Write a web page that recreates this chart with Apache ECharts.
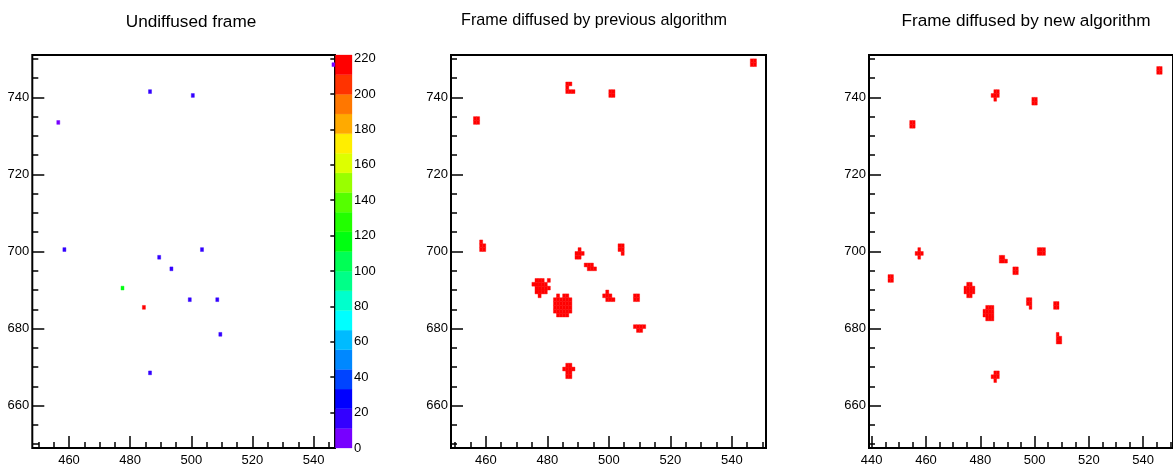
<!DOCTYPE html>
<html>
<head>
<meta charset="utf-8">
<script src="https://cdn.jsdelivr.net/npm/echarts@6/dist/echarts.min.js"></script>
<style>
  html, body { margin: 0; padding: 0; background: #fff; }
  #chart { width: 1173px; height: 468px; }
</style>
</head>
<body>
<div id="chart"></div>
<script>
const FONT = '"Liberation Sans", Arial, Helvetica, sans-serif';

const panelTitles = ['Undiffused frame', 'Frame diffused by previous algorithm', 'Frame diffused by new algorithm'];

// Raw hits: pixel column, pixel row, charge
const hitX = [486, 500, 456, 546, 458, 503, 489, 493, 477, 484, 499, 508, 509, 486];
const hitY = [741, 740, 733, 748, 700, 700, 698, 695, 690, 685, 687, 687, 678, 668];
const hitZ = [16, 16, 7, 8, 16, 16, 16, 16, 115, 220, 16, 16, 16, 16];

// Pixels switched on after diffusion with the previous algorithm
const prevCells = [
  [456,733],[457,733],[456,734],[457,734],
  [486,743],[487,743],[486,742],[486,741],[487,741],[488,741],
  [500,740],[501,740],[500,741],[501,741],
  [546,748],[547,748],[546,749],[547,749],
  [458,702],[458,701],[459,701],[458,700],[459,700],
  [490,700],[489,699],[490,699],[491,699],[489,698],[490,698],
  [492,696],[493,696],[494,696],[493,695],[494,695],[495,695],
  [503,701],[504,701],[503,700],[504,700],[504,699],
  [476,692],[477,692],[478,692],[480,692],
  [475,691],[476,691],[477,691],[478,691],[479,691],
  [476,690],[477,690],[478,690],[479,690],[480,690],
  [476,689],[477,689],[478,689],[479,689],
  [477,688],
  [483,688],[485,688],[486,688],
  [482,687],[483,687],[484,687],[485,687],[486,687],[487,687],
  [482,686],[483,686],[484,686],[485,686],[486,686],[487,686],
  [482,685],[483,685],[484,685],[485,685],[486,685],[487,685],
  [482,684],[483,684],[484,684],[485,684],[486,684],[487,684],
  [483,683],[484,683],[485,683],[486,683],
  [499,689],[498,688],[499,688],[500,688],[499,687],[500,687],[501,687],
  [508,687],[509,687],[508,688],[509,688],
  [508,680],[509,680],[510,680],[511,680],[509,679],[510,679],
  [486,670],[487,670],[485,669],[486,669],[487,669],[488,669],
  [486,668],[487,668],[486,667],[487,667]
];

// Pixels switched on after diffusion with the new algorithm
const newCells = [
  [454,732],[455,732],[454,733],[455,733],
  [485,741],[486,741],[484,740],[485,740],[486,740],[485,739],
  [499,738],[500,738],[499,739],[500,739],
  [545,746],[546,746],[545,747],[546,747],
  [457,700],[456,699],[457,699],[458,699],[457,698],
  [446,692],[447,692],[446,693],[447,693],
  [475,691],[476,691],
  [474,690],[475,690],[476,690],[477,690],
  [474,689],[475,689],[476,689],[477,689],
  [475,688],[476,688],
  [482,685],[483,685],[484,685],
  [481,684],[482,684],[483,684],[484,684],
  [481,683],[482,683],[483,683],[484,683],
  [482,682],[483,682],[484,682],
  [487,698],[488,698],[487,697],[488,697],[489,697],
  [492,694],[493,694],[492,695],[493,695],
  [501,699],[502,699],[503,699],[501,700],[502,700],[503,700],
  [497,687],[498,687],[497,686],[498,686],[498,685],
  [507,685],[508,685],[507,686],[508,686],
  [508,678],[508,677],[509,677],[508,676],[509,676],
  [485,668],[486,668],[484,667],[485,667],[486,667],[485,666]
];

// Tick positions
const xMajorA = [460, 480, 500, 520, 540];
const xMinorA = [450, 455, 460, 465, 470, 475, 480, 485, 490, 495, 500, 505, 510, 515, 520, 525, 530, 535, 540, 545];
const xMajorB = [460, 480, 500, 520, 540];
const xMinorB = [450, 455, 460, 465, 470, 475, 480, 485, 490, 495, 500, 505, 510, 515, 520, 525, 530, 535, 540, 545, 550];
const xMajorC = [440, 460, 480, 500, 520, 540];
const xMinorC = [440, 445, 450, 455, 460, 465, 470, 475, 480, 485, 490, 495, 500, 505, 510, 515, 520, 525, 530, 535, 540, 545, 550];
const yMajor = [660, 680, 700, 720, 740];
const yMinor = [650, 655, 660, 665, 670, 675, 680, 685, 690, 695, 700, 705, 710, 715, 720, 725, 730, 735, 740, 745, 750];
const zTicks = [0, 20, 40, 60, 80, 100, 120, 140, 160, 180, 200, 220];

const zMax = 222;
const nLevels = 20;
const palette = [
  '#7700ff', '#3300ff', '#0000ff', '#0044ff', '#0088ff',
  '#00bbff', '#00ffff', '#00ffcc', '#00ff88', '#00ff55',
  '#00ff11', '#22ff00', '#55ff00', '#99ff00', '#ddff00',
  '#ffee00', '#ffaa00', '#ff7700', '#ff3300', '#ff0000'
];
const hitColor = '#ff0000';

function colorFor(v) {
  const i = Math.min(nLevels - 1, Math.max(0, Math.floor(v / (zMax / nLevels))));
  return palette[i];
}

// Panel frames (pixels) and axis ranges
const panels = [
  { left: 32.3, width: 302.7, xMin: 448, xMax: 547, major: xMajorA, minor: xMinorA },
  { left: 451, width: 315, xMin: 448.7, xMax: 551.1, major: xMajorB, minor: xMinorB },
  { left: 869, width: 311.7, xMin: 439, xMax: 551, major: xMajorC, minor: xMinorC }
];
const yMin = 649, yMax = 751;
const frameTop = 55, frameHeight = 393;

const tickStyle = { color: '#000', width: 1.5 };
const labelStyle = { color: '#000', fontSize: 13, fontFamily: FONT };

const grids = [];
const xAxes = [];
const yAxes = [];

panels.forEach((p, g) => {
  grids.push({ left: p.left, top: frameTop, width: p.width, height: frameHeight, show: true,
               borderColor: '#000', borderWidth: 2, backgroundColor: 'transparent', containLabel: false });
  xAxes.push({ type: 'value', gridIndex: g, min: p.xMin, max: p.xMax, position: 'bottom',
               axisLine: { show: false }, splitLine: { show: false },
               axisTick: { show: true, inside: true, length: 12, customValues: p.major, lineStyle: tickStyle },
               axisLabel: Object.assign({ show: true, margin: 6, customValues: p.major }, labelStyle) });
  xAxes.push({ type: 'value', gridIndex: g, min: p.xMin, max: p.xMax, position: 'bottom',
               axisLine: { show: false }, splitLine: { show: false },
               axisTick: { show: true, inside: true, length: 6, customValues: p.minor, lineStyle: tickStyle },
               axisLabel: { show: false } });
  yAxes.push({ type: 'value', gridIndex: g, min: yMin, max: yMax, position: 'left',
               axisLine: { show: false }, splitLine: { show: false },
               axisTick: { show: true, inside: true, length: 12, customValues: yMajor, lineStyle: tickStyle },
               axisLabel: Object.assign({ show: true, margin: 3, customValues: yMajor }, labelStyle) });
  yAxes.push({ type: 'value', gridIndex: g, min: yMin, max: yMax, position: 'left',
               axisLine: { show: false }, splitLine: { show: false },
               axisTick: { show: true, inside: true, length: 6, customValues: yMinor, lineStyle: tickStyle },
               axisLabel: { show: false } });
});

// Colour scale next to the first panel
grids.push({ left: 335.3, top: frameTop, width: 16.7, height: frameHeight, show: false });
xAxes.push({ type: 'value', gridIndex: 3, min: 0, max: 1, show: false });
yAxes.push({ type: 'value', gridIndex: 3, min: 0, max: zMax, position: 'right',
             axisLine: { show: false }, splitLine: { show: false },
             axisTick: { show: true, inside: true, length: 5, customValues: zTicks, lineStyle: tickStyle },
             axisLabel: Object.assign({ show: true, margin: 2, customValues: zTicks }, labelStyle) });

function cellRenderer(fixedColor) {
  return function (params, api) {
    const x = api.value(0), y = api.value(1);
    const a = api.coord([x, y + 1]);
    const b = api.coord([x + 1, y]);
    const fill = fixedColor || colorFor(api.value(2));
    return {
      type: 'rect',
      shape: { x: a[0], y: a[1], width: b[0] - a[0], height: b[1] - a[1] },
      style: { fill: fill, stroke: fill, lineWidth: 0.4 }
    };
  };
}

const hitData = hitX.map((x, i) => [x, hitY[i], hitZ[i]]);
const levelData = palette.map((c, i) => [i]);

const option = {
  animation: false,
  backgroundColor: '#fff',
  grid: grids,
  xAxis: xAxes,
  yAxis: yAxes,
  series: [
    { type: 'custom', xAxisIndex: 0, yAxisIndex: 0, clip: true, data: hitData,
      encode: { x: 0, y: 1 }, renderItem: cellRenderer(null), z: 3 },
    { type: 'custom', xAxisIndex: 2, yAxisIndex: 2, clip: true, data: prevCells,
      encode: { x: 0, y: 1 }, renderItem: cellRenderer(hitColor), z: 3 },
    { type: 'custom', xAxisIndex: 4, yAxisIndex: 4, clip: true, data: newCells,
      encode: { x: 0, y: 1 }, renderItem: cellRenderer(hitColor), z: 3 },
    { type: 'custom', xAxisIndex: 6, yAxisIndex: 6, data: levelData, z: 4,
      renderItem: function (params, api) {
        const i = api.value(0);
        const step = zMax / nLevels;
        const a = api.coord([0, (i + 1) * step]);
        const b = api.coord([1, i * step]);
        return { type: 'rect', shape: { x: a[0], y: a[1], width: b[0] - a[0], height: b[1] - a[1] },
                 style: { fill: palette[i], stroke: palette[i], lineWidth: 0.3 } };
      } }
  ],
  graphic: [
    { type: 'text', x: 191, y: 22, z: 10,
      style: { text: panelTitles[0], fill: '#000', font: '17.2px ' + FONT, textAlign: 'center', textVerticalAlign: 'middle' } },
    { type: 'text', x: 594, y: 21, z: 10,
      style: { text: panelTitles[1], fill: '#000', font: '16.2px ' + FONT, textAlign: 'center', textVerticalAlign: 'middle' } },
    { type: 'text', x: 1026, y: 21, z: 10,
      style: { text: panelTitles[2], fill: '#000', font: '17.2px ' + FONT, textAlign: 'center', textVerticalAlign: 'middle' } }
  ]
};

const chart = echarts.init(document.getElementById('chart'), null, { renderer: 'canvas' });
chart.setOption(option);
</script>
</body>
</html>
